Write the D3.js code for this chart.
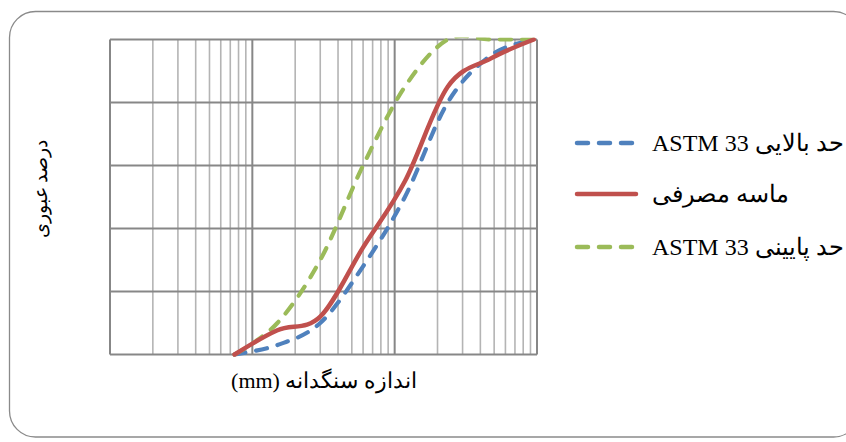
<!DOCTYPE html>
<html><head><meta charset="utf-8">
<script src="https://cdn.jsdelivr.net/npm/d3@7"></script>
<style>
html,body{margin:0;padding:0;background:#fff;}
svg{display:block;}
</style></head>
<body>
<svg id="chart" width="846" height="442"></svg>
<script>
// Sieve sizes (mm) and percent passing
const sieveSizes = [0.075, 0.15, 0.3, 0.6, 1.18, 2.36, 4.75, 9.5];
const upperLimit = [0, 3, 10, 28, 50, 80, 95, 100];      // blue dashed: حد بالایی ASTM 33
const usedSand   = [0, 7.7, 12, 34, 55, 85, 94, 100];    // red solid: ماسه مصرفی
const lowerLimit = [0, 10, 30, 60, 85, 100, 100, 100];   // green dashed: حد پایینی ASTM 33
const seriesNames = ["حد بالایی ASTM 33", "ماسه مصرفی", "حد پایینی ASTM 33"];
const yTicks = [0, 20, 40, 60, 80, 100];
const xTitle = "اندازه سنگدانه (mm)";
const yTitle = "درصد عبوری";

(function () {
const svg = d3.select("#chart");
const pL = 110, pR = 537, pT = 39.5, pB = 354.5;

svg.append("rect").attr("x", 9.5).attr("y", 11.5).attr("width", 850).attr("height", 425.5)
  .attr("rx", 26).attr("fill", "#fff").attr("stroke", "#8a8a8a").attr("stroke-width", 1.3);

const x = d3.scaleLog().domain([0.01, 10]).range([pL, pR]);
const y = d3.scaleLinear().domain([0, 100]).range([pB, pT]);

svg.append("defs").append("clipPath").attr("id", "plotclip").append("rect")
  .attr("x", pL - 4).attr("y", pT - 2).attr("width", pR - pL + 8).attr("height", pB - pT + 8);

const g = svg.append("g");
const vLines = [];
[0.01, 0.1, 1].forEach(d => { for (let k = 1; k <= 9; k++) vLines.push({v: d * k, major: k === 1}); });
vLines.push({v: 10, major: true});
g.selectAll("line.v").data(vLines).enter().append("line")
  .attr("x1", d => x(d.v)).attr("x2", d => x(d.v))
  .attr("y1", y(0)).attr("y2", y(100))
  .attr("stroke", d => d.major ? "#878787" : "#b4b4b4")
  .attr("stroke-width", d => d.major ? 2 : 1.6);
g.selectAll("line.h").data(yTicks).enter().append("line")
  .attr("x1", pL).attr("x2", pR)
  .attr("y1", d => y(d)).attr("y2", d => y(d))
  .attr("stroke", "#878787").attr("stroke-width", 2);

const line = d3.line().x(d => x(d[0])).y(d => y(d[1])).curve(d3.curveCardinal.tension(0));
const series = [
  {vals: upperLimit, color: "#4F81BD", dash: "11,11", w: 4.2},
  {vals: lowerLimit, color: "#9BBB59", dash: "11,11", w: 4.2},
  {vals: usedSand, color: "#C0504D", dash: null, w: 4.5}
];
const lg = svg.append("g").attr("clip-path", "url(#plotclip)");
series.forEach(s => {
  lg.append("path").datum(sieveSizes.map((v, i) => [v, s.vals[i]]))
    .attr("d", line).attr("fill", "none").attr("stroke", s.color)
    .attr("stroke-width", s.w).attr("stroke-linecap", "round")
    .attr("stroke-dasharray", s.dash);
});

const legend = [
  {name: seriesNames[0], color: "#4F81BD", dash: "11,11", yy: 143},
  {name: seriesNames[1], color: "#C0504D", dash: null, yy: 194},
  {name: seriesNames[2], color: "#9BBB59", dash: "11,11", yy: 247}
];
legend.forEach(l => {
  svg.append("line").attr("x1", 577).attr("x2", 636).attr("y1", l.yy).attr("y2", l.yy)
    .attr("stroke", l.color).attr("stroke-width", 4.5).attr("stroke-linecap", "round")
    .attr("stroke-dasharray", l.dash);
  svg.append("text").attr("x", 652).attr("y", l.yy + 8)
    .attr("direction", "rtl").attr("text-anchor", "end")
    .attr("font-family", "'Liberation Serif','Times New Roman',serif").attr("font-size", 24)
    .attr("fill", "#000").text(l.name);
});

svg.append("text").attr("x", 324).attr("y", 388)
  .attr("direction", "rtl").attr("text-anchor", "middle")
  .attr("font-family", "'Liberation Serif','Times New Roman',serif").attr("font-size", 22)
  .attr("fill", "#000").text(xTitle);
svg.append("text").attr("transform", "translate(47,189) rotate(-90)")
  .attr("direction", "rtl").attr("text-anchor", "middle")
  .attr("font-family", "'Liberation Serif','Times New Roman',serif").attr("font-size", 19)
  .attr("fill", "#000").text(yTitle);
})();
</script>
</body></html>
